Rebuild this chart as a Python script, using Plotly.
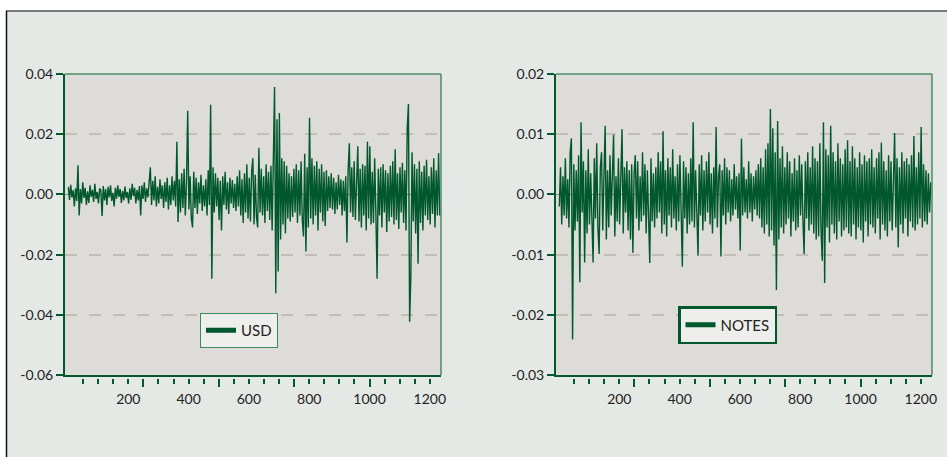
import plotly.graph_objects as go

# ---- data (values in units of 0.0001), one observation every 4 steps ----
STEP = 4
usd_e4 = [
    25, -18, 32, -10, 14, -40, 20, -22, 97, -70, 18, -30, 40, -12, 22, -35, 10, -28, 30, -8,
    15, -25, 35, -15, 8, -30, 20, 12, -72, 28, -20, 18, -35, 25, -10, 30, -22, 5, -40, 22,
    -14, 30, -8, 18, -28, 12, -20, 26, -12, 8, -30, 20, -18, 35, -6, 22, -30, 15, -20, 28,
    -70, 30, -15, 40, -25, 20, -10, 35, 90, -35, 45, -20, 60, -40, 25, -30, 50, -15, 30, -45,
    40, -25, 55, -50, 30, -35, 60, -20, 45, -40, 175, -92, 50, -60, 70, -45, 85, -70, 40, 278,
    -50, 60, -80, -110, 75, -45, 55, -65, 40, -30, 65, -55, 30, -40, 50, -70, 80, -35, 298, -280,
    90, -60, 70, -40, 55, -85, 45, -120, 60, -35, 75, -50, 40, -65, 55, -30, 48, -45, 35, -55,
    60, -40, 80, -70, 50, -95, 70, -60, 100, -80, 55, -90, 75, 120, -100, 65, -75, -110, 155, -60,
    85, -70, 60, -95, 100, -55, 75, -85, 95, -120, 130, 357, -328, 250, -256, 270, -150, 120, -100, 110,
    -130, 95, -80, 70, -90, 60, -75, 85, -60, 100, -95, 80, -70, 110, -85, -140, 135, -190, 90, -110,
    255, -80, 120, -100, 95, -70, 110, -120, 85, -60, 100, -90, 75, -105, 80, -55, 60, -45, 70, -50,
    55, -65, 40, -50, 65, -35, 50, -70, 45, -55, 60, -160, 80, 170, -60, 90, -75, 110, -85, 70,
    160, -90, 85, -110, 100, -70, 95, -120, 175, -80, 160, -100, 75, -95, 120, -60, -280, 85, -70, 90,
    -110, 100, -60, 80, -125, 70, -90, 95, -75, 110, -100, 150, -85, 70, -115, 90, -60, 105, -95, 80,
    -120, 220, 300, -423, -270, 140, -90, 100, -130, 85, -230, 110, -95, 75, -120, 95, -70, 115, -85, 60,
    -100, 90, -65, 120, -110, 80, -70, 137, -70,
]
notes_e4 = [
    -20, 45, -50, 30, -35, 60, -40, 25, -55, 70, 93, -241, 50, -60, 40, -45, 65, -146, 120, -30,
    55, -113, 40, -65, 75, -50, 35, -70, -113, 60, -40, 85, -55, -99, 45, 70, -60, 30, 114, -75,
    40, -55, 65, -35, 50, 99, -70, 30, -45, 60, -50, 35, 108, -65, 45, -30, 55, -60, 40, -75,
    50, -97, 35, 65, -40, 55, -60, 30, -45, 70, -35, 50, -65, 40, -30, -114, 60, -45, 35, -55,
    45, -40, 70, -30, 55, -65, 105, -50, 40, -70, 60, -35, 45, -55, 75, -40, 30, -60, 50, -45,
    65, -30, -120, 55, -40, 45, -65, 35, -50, 60, -45, 120, -55, 40, -30, -102, 50, -35, 65, -60,
    40, -45, 55, -30, 70, -50, 35, -65, 45, -40, 112, -55, 30, 50, -103, 40, -35, 60, -50, 45,
    -30, 40, -45, 25, -35, 50, -25, 30, -40, 35, -93, 93, -35, 45, -30, 25, -40, 55, -30, 35,
    -45, 30, -25, 40, -35, 50, -40, 60, -55, 45, -65, 75, -50, 85, -70, 142, -60, 110, -85, 70,
    -159, 122, -75, 60, -55, 80, -65, 45, -50, 70, -40, 55, -70, 35, -45, 60, -60, 40, -55, 65,
    -35, 50, -45, -99, 55, -40, 70, -60, 45, -50, 80, -65, 60, -75, 55, -70, 85, -60, -110, 120,
    -147, 75, -55, 65, -80, 114, -50, 70, -65, 55, -75, 85, -45, 60, -70, 50, -60, 75, -55, 90,
    -65, 55, -70, 80, -50, 60, -75, 45, -55, 70, -60, 50, -80, 65, -45, 55, -70, 60, -50, 75,
    -55, 45, -65, 60, -40, 70, -75, 86, -50, 55, -60, 40, -70, 65, -45, 55, -60, 50, 102, -55,
    60, -88, 45, -50, 70, -65, 55, -40, 60, -70, 50, -45, 65, -55, 97, -60, 45, -50, 70, -40,
    112, -55, 50, -45, 40, -50, 35, -30, 20,
]
usd = [v / 10000 for v in usd_e4]
notes = [v / 10000 for v in notes_e4]
usd_x = [1 + STEP * i for i in range(len(usd))]
notes_x = [1 + STEP * i for i in range(len(notes))]

x_labels = [200, 400, 600, 800, 1000, 1200]
x_major = [250, 500, 750, 1000]
x_minor = [v for v in range(50, 1201, 50) if v not in x_major]
usd_ticks = [0.04, 0.02, 0.00, -0.02, -0.04, -0.06]
usd_text = ["0.04", "0.02", "0.00", "-0.02", "-0.04", "-0.06"]
notes_ticks = [0.02, 0.01, 0.00, -0.01, -0.02, -0.03]
notes_text = ["0.02", "0.01", "0.00", "-0.01", "-0.02", "-0.03"]

# ---- styling ----
W, H = 947, 457
GREEN = "#00582C"
LIGHT_GREEN = "#4E8A63"
FONT = "Lato"
TXT = "#222222"
PLOT_BG = "#DEDCD9"
PAPER_BG = "#E5E9E6"
GRID = "#C2BDB6"

XR = [-10, 1237]
ydom = [1 - 375 / H, 1 - 74 / H]
ldom = [65 / W, 441 / W]
rdom = [556 / W, 932 / W]
tickpos = 1 - 378 / H

fig = go.Figure()
fig.add_trace(go.Scatter(x=usd_x, y=usd, mode="lines", line=dict(color=GREEN, width=1.4),
                         xaxis="x", yaxis="y", showlegend=False, hoverinfo="skip"))
fig.add_trace(go.Scatter(x=notes_x, y=notes, mode="lines", line=dict(color=GREEN, width=1.4),
                         xaxis="x2", yaxis="y2", showlegend=False, hoverinfo="skip"))
# legend entries
fig.add_trace(go.Scatter(x=[None], y=[None], mode="lines", name="USD",
                         line=dict(color=GREEN, width=5), xaxis="x", yaxis="y", legend="legend"))
fig.add_trace(go.Scatter(x=[None], y=[None], mode="lines", name="NOTES",
                         line=dict(color=GREEN, width=5), xaxis="x2", yaxis="y2", legend="legend2"))
# empty traces so the detached tick axes get drawn
for xa, ya in (("x3", "y"), ("x4", "y"), ("x5", "y2"), ("x6", "y2")):
    fig.add_trace(go.Scatter(x=[None], y=[None], mode="lines", xaxis=xa, yaxis=ya,
                             showlegend=False, hoverinfo="skip"))


def xlab(dom, anchor):
    return dict(domain=dom, range=XR, anchor=anchor, tickmode="array", tickvals=x_labels,
                ticks="outside", ticklen=10, tickcolor="rgba(0,0,0,0)",
                showline=True, linecolor=GREEN, linewidth=2, showgrid=False, zeroline=False,
                tickfont=dict(family=FONT, size=14, color=TXT), fixedrange=True, automargin=False)


def xtick(dom, over, vals, length):
    return dict(domain=dom, range=XR, overlaying=over, anchor="free", position=tickpos,
                tickmode="array", tickvals=vals, ticktext=["" for _ in vals],
                ticks="outside", ticklen=length, tickwidth=2, tickcolor=GREEN,
                showline=False, showgrid=False, zeroline=False, showticklabels=False,
                automargin=False, fixedrange=True)


def ylab(rng, tv, tt, anchor):
    return dict(domain=ydom, range=rng, anchor=anchor, tickmode="array", tickvals=tv, ticktext=tt,
                ticks="outside", ticklen=7, tickwidth=2, tickcolor=GREEN,
                showline=True, linecolor=GREEN, linewidth=2,
                showgrid=True, gridcolor=GRID, griddash="12px,12px", gridwidth=1.6,
                zeroline=True, zerolinecolor="#8C857C", zerolinewidth=1,
                tickfont=dict(family=FONT, size=14, color=TXT), fixedrange=True, automargin=False)


fig.update_layout(
    width=W, height=H, autosize=False,
    margin=dict(l=0, r=0, t=0, b=0, pad=0),
    paper_bgcolor=PAPER_BG, plot_bgcolor=PLOT_BG,
    xaxis=xlab(ldom, "y"),
    yaxis=ylab([-0.06, 0.04], usd_ticks, usd_text, "x"),
    xaxis2=xlab(rdom, "y2"),
    yaxis2=ylab([-0.03, 0.02], notes_ticks, notes_text, "x2"),
    xaxis3=xtick(ldom, "x", x_minor, 5),
    xaxis4=xtick(ldom, "x", x_major, 8),
    xaxis5=xtick(rdom, "x2", x_minor, 5),
    xaxis6=xtick(rdom, "x2", x_major, 8),
    legend=dict(x=200 / W, y=1 - 313 / H, xanchor="left", yanchor="top",
                bgcolor="#EEEEEC", bordercolor="#3A8A5A", borderwidth=1,
                font=dict(family=FONT, size=15, color=TXT), itemwidth=30,
                tracegroupgap=0),
    legend2=dict(x=678 / W, y=1 - 306 / H, xanchor="left", yanchor="top",
                 bgcolor="#EEEEEC", bordercolor=GREEN, borderwidth=2.5,
                 font=dict(family=FONT, size=15, color=TXT), itemwidth=30,
                 tracegroupgap=0),
    showlegend=True,
)

shapes = []
# lighter top/right frame of each plot
for xd, yd in (("x domain", "y domain"), ("x2 domain", "y2 domain")):
    shapes.append(dict(type="line", xref=xd, yref=yd, x0=0, x1=1, y0=1, y1=1,
                       line=dict(color=LIGHT_GREEN, width=1.5)))
    shapes.append(dict(type="line", xref=xd, yref=yd, x0=1, x1=1, y0=0, y1=1,
                       line=dict(color=LIGHT_GREEN, width=1.5)))
# outer page frame
shapes.append(dict(type="rect", xref="paper", yref="paper", x0=0, x1=1, y0=1 - 10 / H, y1=1,
                   fillcolor="white", line=dict(width=0), layer="above"))
shapes.append(dict(type="rect", xref="paper", yref="paper", x0=0, x1=6 / W, y0=0, y1=1,
                   fillcolor="white", line=dict(width=0), layer="above"))
shapes.append(dict(type="line", xref="paper", yref="paper", x0=6 / W, x1=1, y0=1 - 11 / H, y1=1 - 11 / H,
                   line=dict(color="#787878", width=2), layer="above"))
shapes.append(dict(type="line", xref="paper", yref="paper", x0=6.5 / W, x1=6.5 / W, y0=0, y1=1 - 11 / H,
                   line=dict(color="#111111", width=1.5), layer="above"))
fig.update_layout(shapes=shapes)

fig.write_html("out.html")
